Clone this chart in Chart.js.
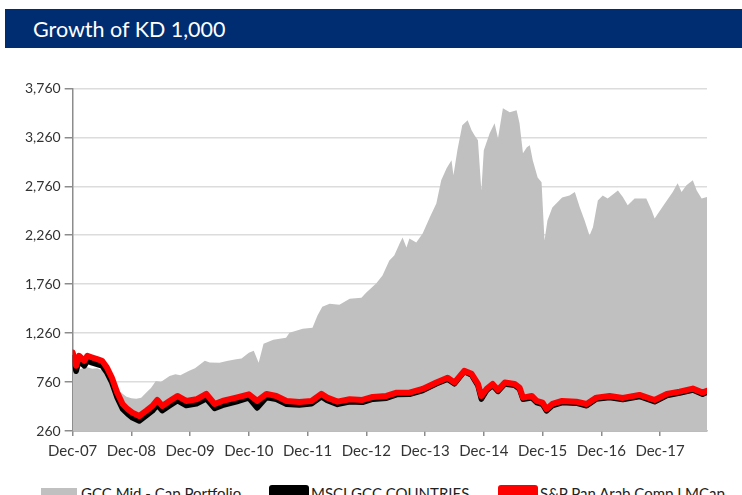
<!DOCTYPE html>
<html>
<head>
<meta charset="utf-8">
<script src="https://cdn.jsdelivr.net/npm/chart.js@4.4.1/dist/chart.umd.min.js"></script>
<style>
  html, body { margin: 0; padding: 0; background: #fff; overflow: hidden; }
  body { width: 742px; height: 495px; position: relative; font-family: Lato, "DejaVu Sans", sans-serif; }
  .banner { position: absolute; left: 5px; top: 9px; width: 737px; height: 39px; background: #002d72; }
  .banner span { position: absolute; left: 28px; top: 7px; color: #fff; font-size: 21.5px; }
  .wrap { position: absolute; left: 0; top: 76px; width: 742px; height: 390px; }
  .legend-item { position: absolute; top: 484px; height: 20px; }
  .legend-item i { position: absolute; left: 0; top: 4px; width: 36px; height: 16px; }
  .legend-item b { position: absolute; left: 40px; top: 0; font-weight: normal; font-size: 15px; color: #222; white-space: nowrap; }
</style>
</head>
<body>
<div class="banner"><span>Growth of KD 1,000</span></div>
<div class="wrap"><canvas id="chart"></canvas></div>
<div id="legend"></div>
<script>
// months since Dec-07
const xTickMonths = [0, 12, 24, 36, 48, 60, 72, 84, 96, 108, 120];
const xTickLabels = ['Dec-07', 'Dec-08', 'Dec-09', 'Dec-10', 'Dec-11', 'Dec-12', 'Dec-13', 'Dec-14', 'Dec-15', 'Dec-16', 'Dec-17'];
const yTicks = [260, 760, 1260, 1760, 2260, 2760, 3260, 3760];

// GCC Mid - Cap Portfolio (grey area)
const portfolioMonths = [0, 1, 2, 3, 4, 5, 6, 7, 8, 9, 10.2, 11, 12, 13, 14, 15, 16, 17, 18, 19.8, 21, 22, 23.8, 25, 27, 28, 30, 31.5, 33.4, 34.5,
  36, 37, 38, 39, 41, 43.6, 44.3, 46, 47, 49, 50, 51, 52.5, 54.5, 56.6, 59, 60, 62, 63.3, 64.7, 65.7, 66.8, 67.4, 68.2, 68.8, 70.2, 71.5,
  73, 74.3, 75.3, 76.4, 77.4, 77.8, 78.6, 79.6, 80.7, 81.5, 82.1, 82.8, 83.5, 84, 85.2, 86.2, 86.9, 87.9, 89.3, 90.7, 91.3, 92, 92.8, 93.4,
  94, 95, 95.8, 96.4, 97, 98, 100, 101.5, 102.6, 103.6, 104.6, 105.6, 106.3, 107.3, 108.3, 109.3, 111.4, 112.4, 113.4, 114.8, 117.2,
  118.3, 118.9, 120, 121.4, 122.6, 123.6, 124.4, 125.4, 126.7, 127.5, 128.5, 129.6];
const portfolioValues = [920, 880, 900, 910, 895, 900, 880, 850, 780, 690, 640, 610, 595, 590, 600, 650, 700, 772, 760, 823, 840, 830, 875, 900, 977, 960, 956, 975, 994, 1000,
  1060, 1080, 956, 1151, 1192, 1213, 1264, 1290, 1305, 1315, 1438, 1530, 1561, 1550, 1612, 1622, 1674, 1766, 1848, 2001, 2053, 2175, 2237, 2134, 2227, 2186, 2278,
  2445, 2585, 2821, 2944, 3026, 2872, 3128, 3384, 3435, 3333, 3282, 3230, 2718, 3128, 3302, 3404, 3251, 3558, 3517, 3538, 3404, 3097, 3159, 3179,
  3026, 2851, 2800, 2206, 2411, 2544, 2646, 2667, 2701, 2547, 2411, 2257, 2342, 2616, 2667, 2636, 2718, 2650, 2565, 2636, 2636,
  2513, 2431, 2513, 2616, 2701, 2790, 2701, 2770, 2821, 2718, 2636, 2650];

// benchmarks (shared months)
const indexMonths = [0, 0.7, 1.3, 2.4, 3, 4, 5, 6, 7, 8, 9.1, 10.2, 11.2, 12.2, 13.6, 15, 16.3, 17.3, 18.3, 19.8, 21.4, 23.2, 25.3, 27.3, 29, 30.6, 33.4,
  36, 37.7, 39.6, 41.6, 43.7, 46.3, 48.8, 50.8, 52, 54.1, 56.6, 59.2, 61.3, 64.1, 66.2, 68.8, 71.5, 74.3, 76.6, 78, 80, 81.5, 82.8, 83.5,
  84.6, 85.8, 86.9, 88.3, 90.3, 91.3, 92, 93.8, 94.8, 96, 96.8, 98, 100, 102.9, 105, 107, 109.7, 112.4, 115.8, 118.9, 121.4, 124, 126.7, 128.7, 129.6];
const msciValues = [1010, 870, 975, 925, 975, 955, 940, 925, 855, 755, 600, 485, 435, 395, 362, 415, 465, 525, 468, 518, 570, 520, 538, 590, 490, 522, 558,
  598, 495, 602, 585, 532, 525, 538, 610, 572, 532, 558, 553, 585, 595, 632, 635, 673, 742, 790, 742, 867, 832, 725, 585,
  676, 726, 664, 741, 726, 688, 585, 600, 550, 533, 466, 518, 551, 544, 518, 586, 602, 581, 613, 559, 623, 647, 679, 636, 655];
const spValues = [1062, 926, 1028, 977, 1028, 1011, 994, 977, 908, 806, 652, 536, 485, 448, 413, 465, 516, 577, 516, 567, 618, 567, 584, 639, 536, 567, 601,
  635, 567, 639, 618, 567, 557, 567, 639, 601, 560, 584, 577, 608, 618, 652, 652, 690, 755, 803, 755, 875, 844, 741, 618,
  690, 741, 680, 755, 741, 704, 601, 618, 567, 550, 485, 536, 567, 560, 536, 601, 618, 598, 629, 577, 639, 662, 693, 652, 670];

const seriesNames = ['GCC Mid - Cap Portfolio', 'MSCI GCC COUNTRIES', 'S&P Pan Arab Comp LMCap'];

const toPoints = (xs, ys) => xs.map((x, i) => ({ x: x, y: ys[i] }));

const chart = new Chart(document.getElementById('chart'), {
  type: 'line',
  data: {
    datasets: [
      {
        label: seriesNames[0],
        data: toPoints(portfolioMonths, portfolioValues),
        backgroundColor: '#c0c0c0',
        borderColor: '#c0c0c0',
        borderWidth: 0,
        fill: 'start',
        pointRadius: 0,
        order: 3
      },
      {
        label: seriesNames[1],
        data: toPoints(indexMonths, msciValues),
        borderColor: '#000000',
        backgroundColor: '#000000',
        borderWidth: 5.5,
        fill: false,
        pointRadius: 0,
        order: 2
      },
      {
        label: seriesNames[2],
        data: toPoints(indexMonths, spValues),
        borderColor: '#ff0000',
        backgroundColor: '#ff0000',
        borderWidth: 6,
        fill: false,
        pointRadius: 0,
        order: 1
      }
    ]
  },
  options: {
    responsive: true,
    maintainAspectRatio: false,
    animation: false,
    layout: { padding: { top: 10, left: 21, right: 35, bottom: 0 } },
    plugins: { legend: { display: false }, tooltip: { enabled: false } },
    elements: { line: { tension: 0, borderJoinStyle: 'round', borderCapStyle: 'round' } },
    scales: {
      x: {
        type: 'linear',
        min: 0,
        max: 129.6,
        afterBuildTicks: (scale) => { scale.ticks = xTickMonths.map(v => ({ value: v })); },
        ticks: {
          padding: 6,
          maxRotation: 0,
          autoSkip: false,
          color: '#333',
          font: { family: 'Lato', size: 15 },
          callback: (value) => xTickLabels[xTickMonths.indexOf(value)]
        },
        grid: { drawOnChartArea: false, tickLength: 5, tickColor: '#8c8c8c', lineWidth: 1.5 },
        border: { color: '#8c8c8c', width: 1.5 }
      },
      y: {
        min: 260,
        max: 3760,
        afterBuildTicks: (scale) => { scale.ticks = yTicks.map(v => ({ value: v })); },
        ticks: {
          padding: 4,
          color: '#333',
          font: { family: 'Lato', size: 14 },
          callback: (value) => value.toLocaleString('en-US')
        },
        grid: { color: '#dcdcdc', lineWidth: 1.5, tickLength: 8, tickColor: '#8c8c8c' },
        border: { color: '#8c8c8c', width: 1.5 }
      }
    }
  }
});

// legend built from the datasets, three fixed columns
const legendLeft = [41, 269, 498];
const legendEl = document.getElementById('legend');
chart.data.datasets.forEach((ds, i) => {
  const item = document.createElement('div');
  item.className = 'legend-item';
  item.style.left = legendLeft[i] + 'px';
  const sw = document.createElement('i');
  sw.style.background = ds.backgroundColor;
  if (i > 0) { sw.style.top = '1px'; sw.style.borderRadius = '3px'; sw.style.width = '40px'; }
  const tx = document.createElement('b');
  tx.textContent = ds.label;
  if (i > 0) tx.style.left = '42px';
  item.appendChild(sw);
  item.appendChild(tx);
  legendEl.appendChild(item);
});
</script>
</body>
</html>
